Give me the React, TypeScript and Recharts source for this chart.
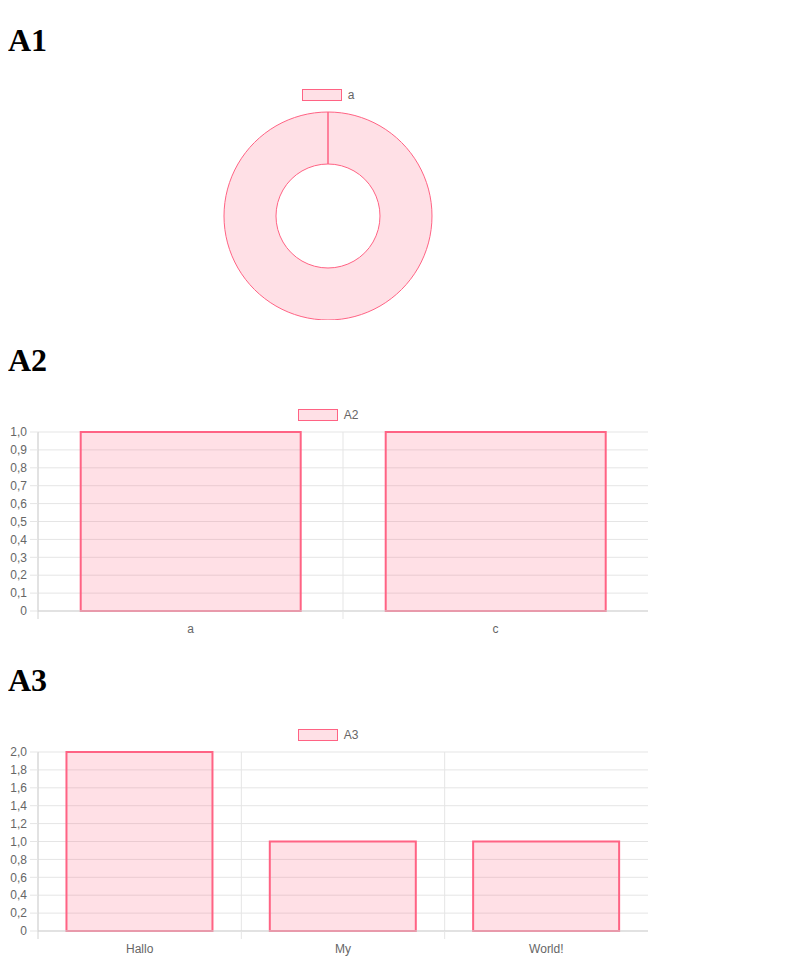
import { PieChart, Pie, Cell, BarChart, Bar, XAxis, YAxis, CartesianGrid, Legend } from "recharts";

const pieLabels = ["a"];
const pieValues = [1];

const a2Labels = ["a", "c"];
const a2Values = [1, 1];
const a2Ticks = [0, 0.1, 0.2, 0.3, 0.4, 0.5, 0.6, 0.7, 0.8, 0.9, 1.0];

const a3Labels = ["Hallo", "My", "World!"];
const a3Values = [2, 1, 1];
const a3Ticks = [0, 0.2, 0.4, 0.6, 0.8, 1.0, 1.2, 1.4, 1.6, 1.8, 2.0];

const W = 640;
const H = 240;
const YW = 30;
const FILL = "rgba(255,99,132,0.2)";
const STROKE = "rgb(255,99,132)";
const FONT = "'Liberation Sans', Helvetica, Arial, sans-serif";
const GRID = "#e5e5e5";
const AXIS = "#d2d2d2";

const fmt = (v: number) => (v === 0 ? "0" : v.toFixed(1).replace(".", ","));

function LegendBox({ label }: { label: string }) {
  return (
    <div style={{ height: 24, display: "flex", justifyContent: "center", alignItems: "flex-start", paddingTop: 1, boxSizing: "border-box" }}>
      <div style={{ display: "flex", alignItems: "center", height: 12 }}>
        <div style={{ width: 40, height: 12, background: FILL, border: `1px solid ${STROKE}`, boxSizing: "border-box" }} />
        <span style={{ marginLeft: 6, fontSize: 12, color: "#666", fontFamily: FONT, lineHeight: "12px" }}>{label}</span>
      </div>
    </div>
  );
}

function Donut() {
  const data = pieLabels.map((name, i) => ({ name, value: pieValues[i] }));
  return (
    <PieChart width={W} height={H} margin={{ top: 8, right: 0, bottom: 0, left: 0 }}>
      <Legend verticalAlign="top" content={() => <LegendBox label={pieLabels[0]} />} />
      <Pie
        data={data}
        dataKey="value"
        nameKey="name"
        cx="50%"
        cy="50%"
        outerRadius="100%"
        innerRadius="50%"
        startAngle={90}
        endAngle={-270}
        isAnimationActive={false}
      >
        {data.map((d) => (
          <Cell key={d.name} fill={FILL} stroke={STROKE} strokeWidth={1} />
        ))}
      </Pie>
    </PieChart>
  );
}

function Bars({ title, labels, values, ticks }: { title: string; labels: string[]; values: number[]; ticks: number[] }) {
  const data = labels.map((name, i) => ({ name, value: values[i] }));
  const band = (W - YW) / labels.length;
  const XTick = (p: any) => {
    const { x, y, payload, index } = p;
    const lx = x - band / 2;
    return (
      <g>
        <line x1={lx} x2={lx} y1={y - 13} y2={y - 5} stroke={index === 0 ? AXIS : GRID} />
        <text x={x} y={y} dy="0.71em" textAnchor="middle" fill="#666" fontSize={12} fontFamily={FONT}>
          {payload.value}
        </text>
      </g>
    );
  };
  return (
    <BarChart width={W} height={H} data={data} margin={{ top: 8, right: 0, bottom: 0, left: 0 }} barCategoryGap="14%">
      <Legend verticalAlign="top" content={() => <LegendBox label={title} />} />
      <CartesianGrid
        stroke={GRID}
        verticalCoordinatesGenerator={({ offset }: any) => labels.map((_, i) => offset.left + (i * offset.width) / labels.length)}
      />
      <XAxis
        dataKey="name"
        height={29}
        tickSize={8}
        tickMargin={5}
        tickLine={false}
        axisLine={{ stroke: AXIS }}
        tick={XTick}
        interval={0}
      />
      <YAxis
        width={YW}
        domain={[ticks[0], ticks[ticks.length - 1]]}
        ticks={ticks}
        interval={0}
        tickFormatter={fmt}
        tickSize={8}
        tickMargin={3}
        tickLine={{ stroke: GRID }}
        axisLine={{ stroke: AXIS }}
        tick={{ fill: "#666", fontSize: 12, fontFamily: FONT }}
      />
      <Bar dataKey="value" fill={FILL} stroke={STROKE} strokeWidth={2} isAnimationActive={false} />
    </BarChart>
  );
}

export default function App() {
  const h1 = { fontFamily: "'Liberation Serif', 'Times New Roman', serif" };
  return (
    <div>
      <h1 style={{ ...h1, marginTop: 14 }}>A1</h1>
      <Donut />
      <h1 style={h1}>A2</h1>
      <Bars title="A2" labels={a2Labels} values={a2Values} ticks={a2Ticks} />
      <h1 style={h1}>A3</h1>
      <Bars title="A3" labels={a3Labels} values={a3Values} ticks={a3Ticks} />
    </div>
  );
}
